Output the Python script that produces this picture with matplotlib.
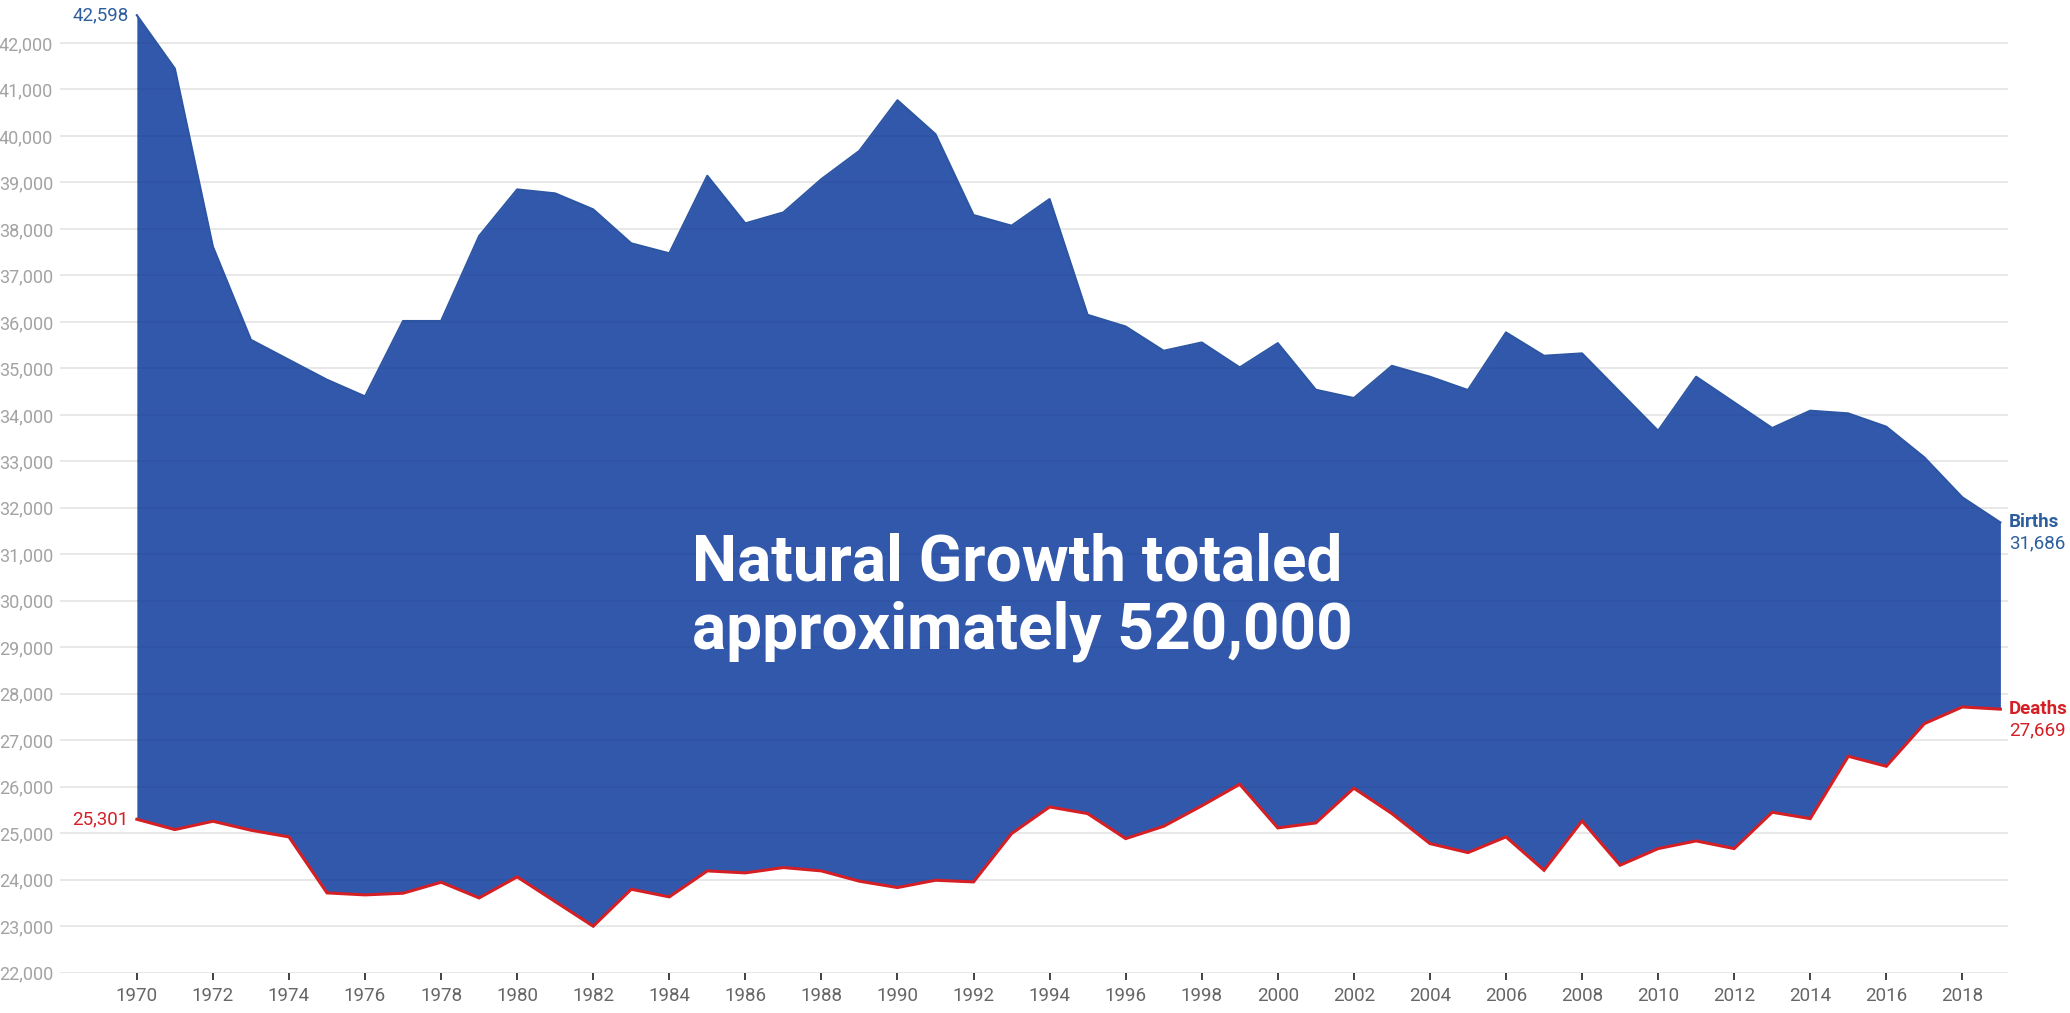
import numpy as np
import matplotlib
matplotlib.use('Agg')
import matplotlib.pyplot as plt

# Data
years = np.arange(1970, 2020)
births = [42598, 41450, 37620, 35615, 35185, 34756, 34398, 36020, 36020, 37848,
          38850, 38765, 38421, 37691, 37476, 39144, 38120, 38356, 39072, 39681,
          40769, 40039, 38299, 38070, 38643, 36152, 35901, 35379, 35558, 35021,
          35543, 34541, 34362, 35055, 34821, 34534, 35774, 35272, 35323, 34490,
          33659, 34821, 34269, 33717, 34090, 34032, 33746, 33086, 32226, 31686]
deaths = [25301, 25079, 25258, 25065, 24921, 23717, 23674, 23710, 23946, 23609,
          24061, 23530, 23000, 23796, 23631, 24190, 24147, 24262, 24190, 23968,
          23832, 23989, 23953, 24993, 25566, 25423, 24885, 25150, 25590, 26054,
          25115, 25222, 25970, 25423, 24778, 24584, 24921, 24204, 25265, 24312,
          24670, 24835, 24670, 25452, 25315, 26656, 26441, 27358, 27717, 27669]
year_ticks = list(range(1970, 2019, 2))
y_ticks = list(range(22000, 43000, 1000))
headline = 'Natural Growth totaled\napproximately 520,000'

FILL_COLOR = '#3258ac'
BLUE_TEXT = '#2d5f9f'
RED = '#d41f25'

plt.rcParams['font.family'] = ['Roboto', 'DejaVu Sans']

fig = plt.figure(figsize=(20.7, 10.13), dpi=100)
ax = fig.add_axes([60 / 2070, 40.3 / 1013, (2008 - 60) / 2070, (1013 - 40.3) / 1013])

# area between births and deaths
ax.fill_between(years, deaths, births, color=FILL_COLOR, linewidth=0, zorder=2)
ax.plot(years, births, color='#2c55a3', linewidth=1.5, zorder=3)
ax.plot(years, deaths, color=RED, linewidth=2.2, zorder=4, solid_joinstyle='miter')

# gridlines: light on white, faint on the fill
for v in y_ticks:
    ax.axhline(v, color='#f1f1f1', linewidth=1.3, zorder=1)
    ax.axhline(v, color='black', alpha=0.045, linewidth=1.3, zorder=2.5)

ax.set_xlim(1967.98, 2019.2)
ax.set_ylim(22000, 42925)
ax.set_yticks(y_ticks)
ax.set_yticklabels([f'{v:,}' for v in y_ticks])
ax.set_xticks(year_ticks)
ax.set_xticklabels([str(y) for y in year_ticks])
ax.tick_params(axis='y', length=0, pad=5, labelsize=13, labelcolor='#a3a3a3')
ax.tick_params(axis='x', length=5, width=1.2, color='#222222', pad=5,
               labelsize=13.5, labelcolor='#666666')
for s in ax.spines.values():
    s.set_visible(False)

# endpoint labels
ax.annotate(f'{births[0]:,}', (years[0], births[0]), xytext=(-6, 0),
            textcoords='offset points', ha='right', va='center',
            fontsize=13.5, color=BLUE_TEXT)
ax.annotate(f'{deaths[0]:,}', (years[0], deaths[0]), xytext=(-6, 0),
            textcoords='offset points', ha='right', va='center',
            fontsize=13.5, color=RED)
ax.annotate('Births', (years[-1], births[-1]), xytext=(6, 0),
            textcoords='offset points', ha='left', va='center',
            fontsize=13.5, fontweight='bold', color=BLUE_TEXT, annotation_clip=False)
ax.annotate(f'{births[-1]:,}', (years[-1], births[-1]), xytext=(6, -15),
            textcoords='offset points', ha='left', va='center',
            fontsize=13.5, color=BLUE_TEXT, annotation_clip=False)
ax.annotate('Deaths', (years[-1], deaths[-1]), xytext=(6, 0),
            textcoords='offset points', ha='left', va='center',
            fontsize=13.5, fontweight='bold', color=RED, annotation_clip=False)
ax.annotate(f'{deaths[-1]:,}', (years[-1], deaths[-1]), xytext=(6, -15),
            textcoords='offset points', ha='left', va='center',
            fontsize=13.5, color=RED, annotation_clip=False)

# headline inside the area
fig.text(692 / 2070, 1 - 597 / 1013, headline, ha='left', va='center',
         fontsize=46, fontweight='bold', color='white', linespacing=1.15, zorder=5)

fig.savefig('out.png', dpi=100, facecolor='white')
